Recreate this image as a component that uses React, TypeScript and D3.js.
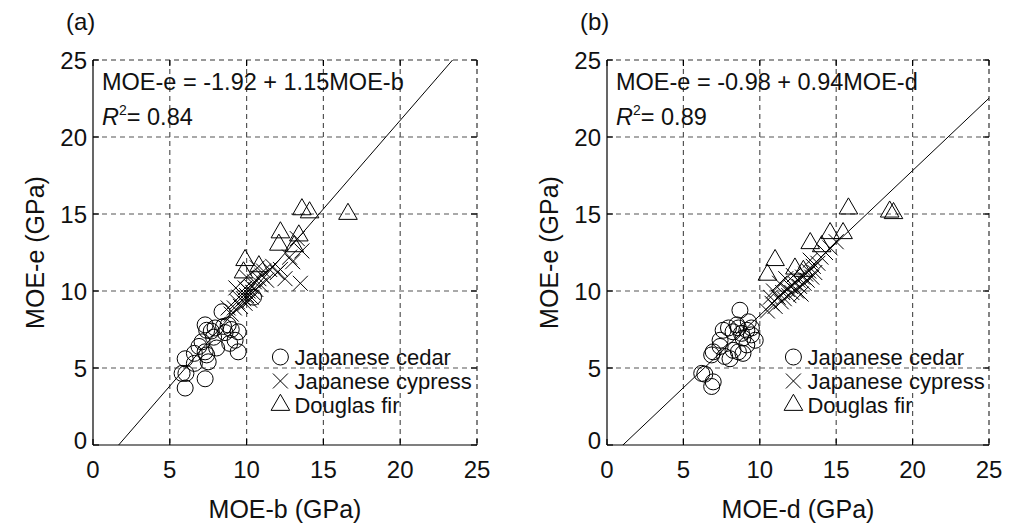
import React from "react";
import * as d3 from "d3";

const ticks = [0, 5, 10, 15, 20, 25];
const tickLabels = ["0", "5", "10", "15", "20", "25"];

// Panel (a): MOE-b vs MOE-e
const cedarA: [number, number][] = [
  [6.0, 3.7], [6.05, 4.65], [5.8, 4.65], [7.3, 4.3], [6.0, 5.6], [6.6, 5.95], [7.5, 5.4],
  [7.4, 5.85], [6.9, 6.4], [7.1, 6.7], [9.45, 6.05], [8.9, 6.6], [9.25, 6.8], [7.4, 7.45],
  [7.3, 7.8], [7.95, 7.6], [8.5, 7.7], [8.8, 7.8], [8.4, 8.65], [9.45, 7.35], [10.45, 9.6],
  [7.85, 7.0], [8.05, 6.3], [7.3, 6.05], [8.6, 7.3], [9.0, 7.5], [7.7, 7.4], [6.6, 5.3],
];
const cypressA: [number, number][] = [
  [9.2, 8.9], [9.4, 9.3], [9.5, 9.6], [9.6, 9.0], [9.7, 9.8], [9.8, 9.5], [9.9, 10.2],
  [10.0, 9.7], [10.1, 10.0], [10.2, 9.4], [10.3, 10.3], [10.4, 9.9], [10.5, 10.6], [10.6, 10.1],
  [10.8, 10.8], [10.9, 10.4], [11.0, 11.0], [11.1, 11.3], [11.3, 10.7], [11.5, 11.4],
  [11.7, 11.6], [12.0, 11.2], [12.2, 11.4], [12.5, 10.8], [12.8, 12.2], [13.0, 11.9],
  [13.5, 10.5], [13.6, 12.6], [13.3, 13.4], [9.0, 8.5], [8.8, 8.9], [9.3, 10.2],
  [10.0, 10.9], [10.7, 11.5], [9.9, 9.2], [10.3, 9.6],
];
const firA: [number, number][] = [
  [13.6, 15.3], [14.1, 15.1], [16.6, 15.0], [12.2, 13.8], [13.4, 13.6], [12.1, 13.0],
  [13.1, 12.9], [9.9, 12.0], [9.8, 11.2], [10.8, 11.6],
];

// Panel (b): MOE-d vs MOE-e
const cedarB: [number, number][] = [
  [6.2, 4.65], [6.4, 4.6], [6.85, 3.8], [6.95, 4.1], [6.95, 6.05], [7.4, 6.4], [7.7, 5.75],
  [8.05, 5.6], [8.25, 6.15], [8.6, 6.05], [8.9, 5.95], [9.15, 6.5], [8.9, 6.95], [9.45, 7.15],
  [9.7, 6.8], [7.6, 7.45], [7.95, 7.6], [8.25, 7.35], [8.5, 7.8], [8.7, 8.75], [8.6, 7.6],
  [9.15, 7.45], [9.45, 7.6], [7.4, 6.8], [6.85, 5.85], [8.8, 7.25], [9.25, 8.0],
];
const cypressB: [number, number][] = [
  [10.5, 8.7], [10.8, 9.2], [11.0, 9.0], [11.2, 9.6], [11.4, 9.3], [11.5, 9.9], [11.6, 9.5],
  [11.8, 10.1], [11.9, 9.7], [12.0, 10.3], [12.1, 9.9], [12.3, 10.5], [12.4, 10.0],
  [12.5, 10.7], [12.6, 10.3], [12.8, 10.9], [12.9, 10.5], [13.0, 11.1], [13.1, 10.7],
  [13.2, 11.3], [13.4, 10.9], [13.5, 11.6], [13.6, 11.2], [13.8, 11.8], [14.0, 12.2],
  [14.3, 12.5], [14.6, 12.8], [15.0, 13.2], [11.3, 10.5], [12.2, 11.0], [10.9, 10.0],
  [12.7, 9.8], [13.3, 12.0], [11.7, 10.8], [10.7, 9.6],
];
const firB: [number, number][] = [
  [15.8, 15.35], [18.5, 15.15], [18.75, 15.05], [14.6, 13.75], [15.45, 13.75], [13.3, 13.1],
  [14.05, 12.9], [11.0, 12.0], [10.5, 11.05], [12.3, 11.45], [12.85, 11.3],
];

const interceptA = -1.92;
const slopeA = 1.15;
const interceptB = -0.98;
const slopeB = 0.94;

const legendLabels = ["Japanese cedar", "Japanese cypress", "Douglas fir"];

const FONT = "Liberation Sans, Arial, Helvetica, sans-serif";

const crossPath = "M-7.5,-7.5L7.5,7.5M-7.5,7.5L7.5,-7.5";
const triPath = d3.symbol(d3.symbolTriangle, 150)() as string;

function Marker({ kind, x, y }: { kind: number; x: number; y: number }) {
  if (kind === 0)
    return <circle cx={x} cy={y} r={8} fill="none" stroke="#000" strokeWidth={1} />;
  if (kind === 1)
    return <path d={crossPath} transform={`translate(${x},${y})`} fill="none" stroke="#000" strokeWidth={1} />;
  return <path d={triPath} transform={`translate(${x},${y})`} fill="none" stroke="#000" strokeWidth={1} />;
}

function Panel(props: {
  id: string;
  tag: string;
  left: number;
  top: number;
  width: number;
  height: number;
  xTitle: string;
  eq: string;
  r2: string;
  intercept: number;
  slope: number;
  cedar: [number, number][];
  cypress: [number, number][];
  fir: [number, number][];
}) {
  const { left, top, width, height } = props;
  const x = d3.scaleLinear().domain([0, 25]).range([left, left + width]);
  const y = d3.scaleLinear().domain([0, 25]).range([top + height, top]);
  const line = d3.line<number>().x((v) => x(v)).y((v) => y(props.intercept + props.slope * v));
  const bottom = top + height;
  const right = left + width;
  const grid = ticks.slice(1, -1);
  const legX = x(12.2);
  return (
    <g>
      <defs>
        <clipPath id={`clip-${props.id}`}>
          <rect x={left} y={top} width={width} height={height} />
        </clipPath>
      </defs>
      {grid.map((t) => (
        <line key={`gx${t}`} x1={x(t)} x2={x(t)} y1={top} y2={bottom} stroke="#555" strokeWidth={1.2} strokeDasharray="5,4" />
      ))}
      {grid.map((t) => (
        <line key={`gy${t}`} x1={left} x2={right} y1={y(t)} y2={y(t)} stroke="#555" strokeWidth={1.2} strokeDasharray="5,4" />
      ))}
      <line x1={left} x2={right} y1={top} y2={top} stroke="#333" strokeWidth={1.2} strokeDasharray="5,4" />
      <line x1={right} x2={right} y1={top} y2={bottom} stroke="#333" strokeWidth={1.2} strokeDasharray="5,4" />
      <line x1={left} x2={left} y1={top} y2={bottom} stroke="#000" strokeWidth={1.2} />
      <line x1={left} x2={right} y1={bottom} y2={bottom} stroke="#000" strokeWidth={1.2} />
      {ticks.map((t) => (
        <g key={`t${t}`}>
          <line x1={x(t)} x2={x(t)} y1={bottom} y2={bottom - 6} stroke="#000" strokeWidth={1.2} />
          <line x1={x(t)} x2={x(t)} y1={top} y2={top + 6} stroke="#000" strokeWidth={1.2} />
          <line x1={left} x2={left + 6} y1={y(t)} y2={y(t)} stroke="#000" strokeWidth={1.2} />
          <line x1={right} x2={right - 6} y1={y(t)} y2={y(t)} stroke="#000" strokeWidth={1.2} />
        </g>
      ))}
      {ticks.map((t, i) => (
        <text key={`xl${t}`} x={x(t)} y={bottom + 33} textAnchor="middle" fontSize={24} fontFamily={FONT} fill="#111">
          {tickLabels[i]}
        </text>
      ))}
      {ticks.map((t, i) => (
        <text key={`yl${t}`} x={left - 6} y={y(t) + (t === 0 ? 4 : 9)} textAnchor="end" fontSize={24} fontFamily={FONT} fill="#111">
          {tickLabels[i]}
        </text>
      ))}
      <text x={(left + right) / 2} y={bottom + 73} textAnchor="middle" fontSize={25} fontFamily={FONT} fill="#111">
        {props.xTitle}
      </text>
      <text
        transform={`translate(${left - 49},${(top + bottom) / 2}) rotate(-90)`}
        textAnchor="middle"
        fontSize={25}
        fontFamily={FONT}
        fill="#111"
      >
        MOE-e (GPa)
      </text>
      <text x={left - 27} y={30} fontSize={24} fontFamily={FONT} fill="#111">
        {props.tag}
      </text>
      <path d={line([0, 25]) as string} fill="none" stroke="#000" strokeWidth={1} clipPath={`url(#clip-${props.id})`} />
      {props.cedar.map((d, i) => (
        <Marker key={`c${i}`} kind={0} x={x(d[0])} y={y(d[1])} />
      ))}
      {props.cypress.map((d, i) => (
        <Marker key={`p${i}`} kind={1} x={x(d[0])} y={y(d[1])} />
      ))}
      {props.fir.map((d, i) => (
        <Marker key={`f${i}`} kind={2} x={x(d[0])} y={y(d[1])} />
      ))}
      <text x={left + 9} y={top + 30} fontSize={23.5} fontFamily={FONT} fill="#111">
        {props.eq}
      </text>
      <text x={left + 9} y={top + 65} fontSize={23.5} fontFamily={FONT} fill="#111">
        <tspan fontStyle="italic">R</tspan>
        <tspan fontSize={14} dy={-10}>2</tspan>
        <tspan dy={10}>= {props.r2}</tspan>
      </text>
      {legendLabels.map((lab, i) => (
        <g key={lab}>
          <Marker kind={i} x={legX} y={top + 297 + i * 24} />
          <text x={legX + 14} y={top + 297 + i * 24 + 8} fontSize={22} fontFamily={FONT} fill="#111">
            {lab}
          </text>
        </g>
      ))}
    </g>
  );
}

export default function App() {
  return (
    <svg width={1016} height={526} style={{ display: "block", margin: 0, position: "absolute", left: 0, top: 0 }}>
      <rect width={1016} height={526} fill="#fff" />
      <Panel
        id="a"
        tag="(a)"
        left={93}
        top={60}
        width={384}
        height={385}
        xTitle="MOE-b (GPa)"
        eq="MOE-e = -1.92 + 1.15MOE-b"
        r2="0.84"
        intercept={interceptA}
        slope={slopeA}
        cedar={cedarA}
        cypress={cypressA}
        fir={firA}
      />
      <Panel
        id="b"
        tag="(b)"
        left={607}
        top={60}
        width={382}
        height={385}
        xTitle="MOE-d (GPa)"
        eq="MOE-e = -0.98 + 0.94MOE-d"
        r2="0.89"
        intercept={interceptB}
        slope={slopeB}
        cedar={cedarB}
        cypress={cypressB}
        fir={firB}
      />
    </svg>
  );
}
